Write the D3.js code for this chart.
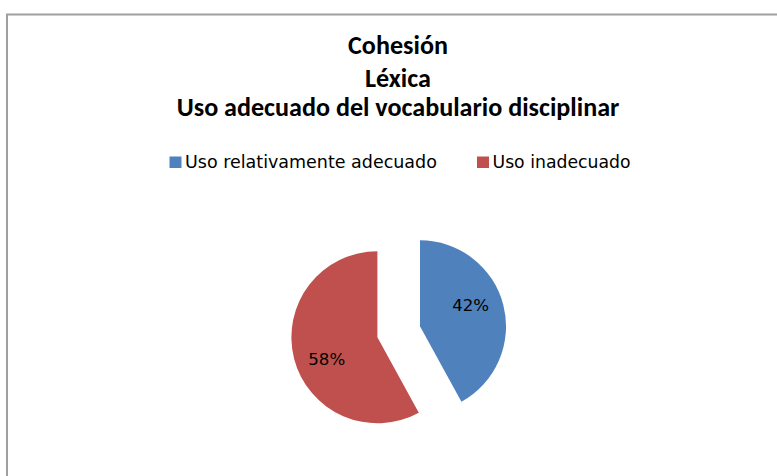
<!DOCTYPE html>
<html>
<head>
<meta charset="utf-8">
<script src="https://cdn.jsdelivr.net/npm/d3@7"></script>
<style>
  html, body { margin: 0; padding: 0; background: #fff; }
  svg { display: block; }
</style>
</head>
<body>
<svg id="chart" width="777" height="476"></svg>
<script>
const titleLines = ["Cohesión", "Léxica", "Uso adecuado del vocabulario disciplinar"];
const categories = ["Uso relativamente adecuado", "Uso inadecuado"];
const values = [42, 58];
const colors = ["#4F81BD", "#C0504D"];

const svg = d3.select("#chart");

// chart area border (extends beyond the window on right/bottom)
svg.append("rect")
  .attr("x", 7).attr("y", 14.5)
  .attr("width", 800).attr("height", 500)
  .attr("fill", "#fff")
  .attr("stroke", "#a0a0a0")
  .attr("stroke-width", 2);

function fitWidth(sel, target) {
  const fs = parseFloat(sel.attr("font-size"));
  const w = sel.node().getComputedTextLength();
  sel.attr("font-size", fs * target / w);
}

// title
const titleFont = "Carlito, Calibri, Lato, 'Open Sans', sans-serif";
const titleBaselines = [54, 86.5, 116];
const tTexts = svg.append("g").selectAll("text")
  .data(titleLines).join("text")
  .attr("x", 398)
  .attr("y", (d, i) => titleBaselines[i])
  .attr("text-anchor", "middle")
  .attr("font-family", titleFont)
  .attr("font-weight", "bold")
  .attr("font-size", 20)
  .attr("fill", "#000")
  .text(d => d);
{
  const last = tTexts.filter((d, i) => i === 2);
  const w = last.node().getComputedTextLength();
  tTexts.attr("font-size", 20 * 443 / w);
}

// legend
const legendFont = "'DejaVu Sans', Verdana, sans-serif";
const legX = [169.5, 477];
const legTextW = [252, 138];
const leg = svg.append("g").selectAll("g")
  .data(categories).join("g");
leg.append("rect")
  .attr("x", (d, i) => legX[i])
  .attr("y", 156.5)
  .attr("width", 12).attr("height", 11.5)
  .attr("fill", (d, i) => colors[i]);
leg.append("text")
  .attr("x", (d, i) => legX[i] + 15.5)
  .attr("y", 168.3)
  .attr("font-family", legendFont)
  .attr("font-size", 16)
  .attr("fill", "#000")
  .text(d => d)
  .each(function(d, i) { fitWidth(d3.select(this), legTextW[i]); });

// pie
const cx = 398.7, cy = 331.8, R = 86, explode = 22;
const pie = d3.pie().sort(null).value(d => d);
const arcs = pie(values);
const arc = d3.arc().innerRadius(0).outerRadius(R);
const labelArc = d3.arc().innerRadius(R * 0.64).outerRadius(R * 0.64);
const labelShift = -0.15;

const g = svg.append("g").attr("transform", `translate(${cx},${cy})`);
const slices = g.selectAll("g.slice").data(arcs).join("g")
  .attr("class", "slice")
  .attr("transform", d => {
    const a = (d.startAngle + d.endAngle) / 2;
    return `translate(${Math.sin(a) * explode},${-Math.cos(a) * explode})`;
  });
slices.append("path")
  .attr("d", arc)
  .attr("fill", (d, i) => colors[i]);
slices.append("text")
  .attr("transform", d => {
    const [x, y] = labelArc.centroid({startAngle: d.startAngle + labelShift, endAngle: d.endAngle + labelShift});
    return `translate(${x},${y})`;
  })
  .attr("text-anchor", "middle")
  .attr("dy", "0.36em")
  .attr("font-family", legendFont)
  .attr("font-size", 16)
  .attr("fill", "#000")
  .text(d => d.data + "%")
  .each(function() { fitWidth(d3.select(this), 37); });
</script>
</body>
</html>
